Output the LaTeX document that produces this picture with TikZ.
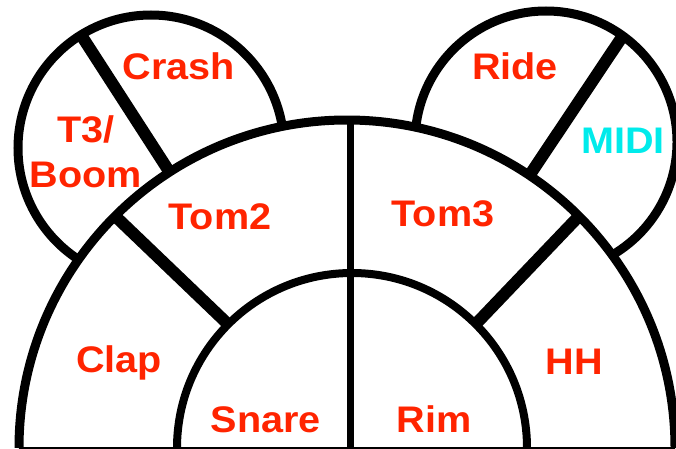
\documentclass[tikz,border=0pt]{standalone}
\usepackage{fontspec}
\usetikzlibrary{calc}
\newfontfamily\lab[FakeStretch=1.07]{Liberation Sans Bold}
\definecolor{labred}{RGB}{255,36,0}
\definecolor{labcyan}{RGB}{0,235,235}
\tikzset{
  arcline/.style={line width=9pt},
  earline/.style={line width=12pt},
  splitline/.style={line width=12pt},
  midline/.style={line width=7pt},
  lbl/.style={anchor=base, inner sep=0pt, text=labred, font=\lab\fontsize{37}{45}\selectfont},
}
\begin{document}
\begin{tikzpicture}[x=1pt,y=1pt]
\useasboundingbox (0,0) rectangle (676,448);
% centres
\coordinate (LE) at (151,300);
\coordinate (RE) at (546,306);
\coordinate (C) at (347,0);
\coordinate (CI) at (352,0);
% left ear
\fill[white] (LE) circle (133);
\begin{scope}
  \clip (LE) circle (133);
  \coordinate (le1) at (72,427);
  \coordinate (le2) at (185,252);
  \draw[earline] (le1) -- (le2);
\end{scope}
\draw[arcline] (LE) circle (133);
% right ear
\fill[white] (RE) circle (131);
\begin{scope}
  \clip (RE) circle (131);
  \coordinate (re1) at (630,423);
  \coordinate (re2) at (519,257);
  \draw[earline] (re1) -- (re2);
\end{scope}
\draw[arcline] (RE) circle (131);
% big semicircle
\fill[white] ($(C)+(-328,0)$) arc[start angle=180,end angle=0,radius=328] -- cycle;
\draw[arcline] ($(C)+(-328,0)$) arc[start angle=180,end angle=0,radius=328];
% radial splits
\draw[splitline] ($(CI)+(135:170)$) -- ($(C)+(135:330)$);
\draw[splitline] ($(CI)+(45:170)$) -- ($(C)+(45:330)$);
% inner semicircle
\fill[white] ($(CI)+(-175,0)$) arc[start angle=180,end angle=0,radius=175] -- cycle;
\draw[arcline, line width=8pt] ($(CI)+(-175,0)$) arc[start angle=180,end angle=0,radius=175];
% vertical divider
\coordinate (vb) at (350,0);
\coordinate (vt) at (350,326);
\draw[midline] (vb) -- (vt);
% base line
\coordinate (bl) at (19,0);
\coordinate (br) at (675,0);
\draw[line width=3pt] (bl) -- (br);
% labels
\node[lbl] (crash) at (179,368) {Crash};
\node[lbl] (t3) at (86,261) {\begin{tabular}[b]{@{}c@{}}T3/\\Boom\end{tabular}};
\node[lbl] (tom2) at (220,219) {Tom2};
\node[lbl] (tom3) at (443,222) {Tom3};
\node[lbl] (ride) at (515,368) {Ride};
\node[lbl, text=labcyan] (midi) at (623,295) {MIDI};
\node[lbl] (clap) at (119,76) {Clap};
\node[lbl] (snare) at (266,16) {Snare};
\node[lbl] (rim) at (434,16) {Rim};
\node[lbl] (hh) at (574,74) {HH};
\end{tikzpicture}
\end{document}
